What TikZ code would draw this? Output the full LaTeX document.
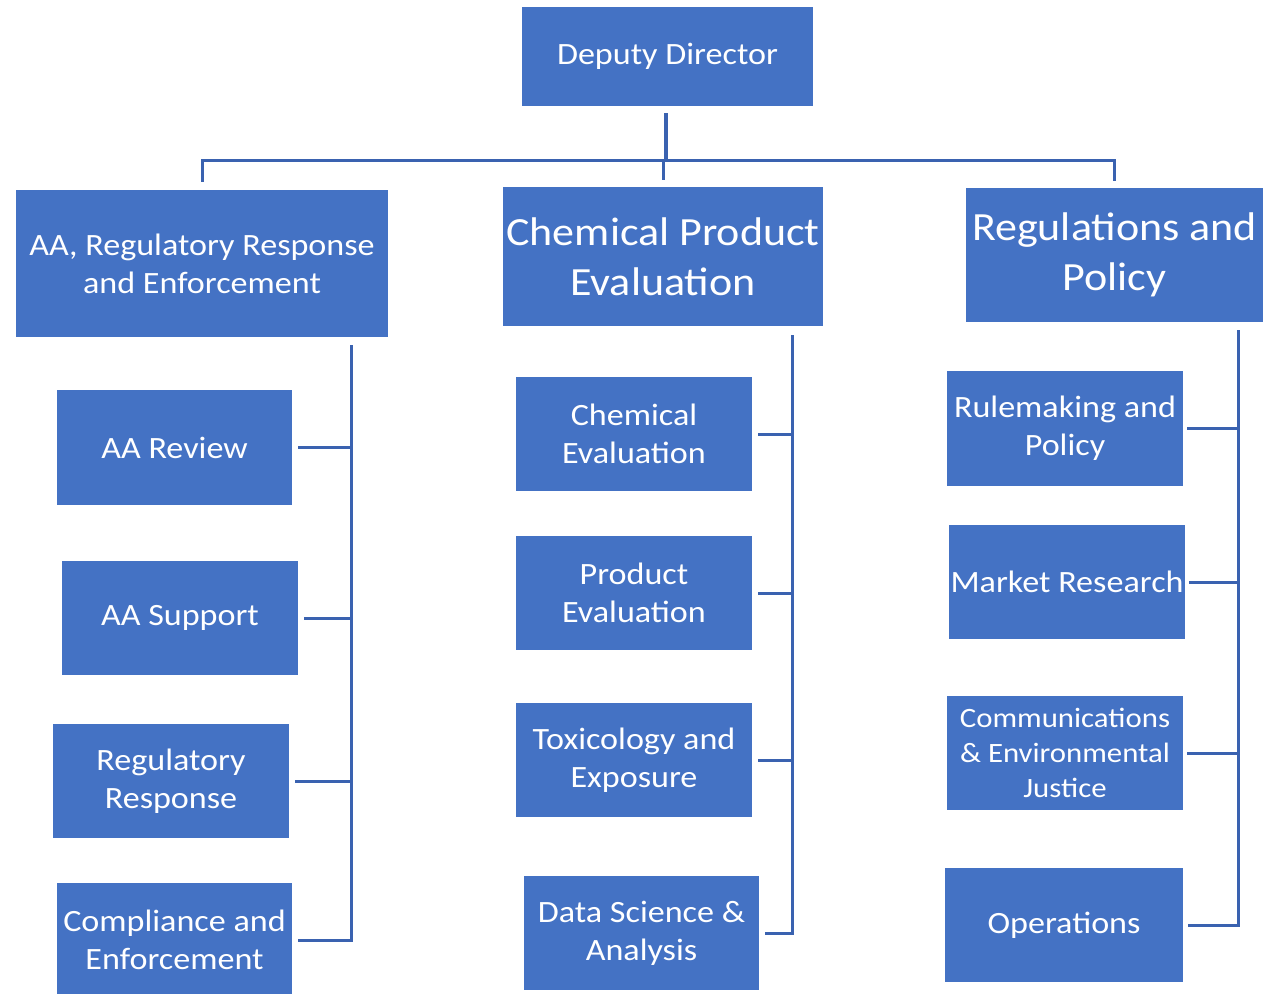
\documentclass[tikz,border=0pt]{standalone}
\usepackage{fontspec}
\setmainfont{Carlito}[FakeStretch=1.1]
\usetikzlibrary{calc}
\definecolor{boxblue}{HTML}{4472C4}
\definecolor{lineblue}{HTML}{3A62B0}
\tikzset{
  unit/.style={rectangle, fill=boxblue, text=white, align=center, inner sep=0pt,
    font=\fontsize{31}{38}\selectfont},
  head/.style={unit, font=\fontsize{40}{50}\selectfont},
  link/.style={draw=lineblue, line width=3pt}
}
\begin{document}
\begin{tikzpicture}[x=1pt, y=-1pt]
  \useasboundingbox (0,0) rectangle (1263,993);

  \node [unit, minimum width=291, minimum height=99] (dd) at (667.5,56.5) {Deputy Director};

  \node [unit, minimum width=372, minimum height=147] (are) at (202,263.5) {AA, Regulatory Response\\and Enforcement};
  \node [head, minimum width=320, minimum height=139] (cpe) at (663,256.5) {Chemical Product\\Evaluation};
  \node [head, minimum width=297, minimum height=134] (rap) at (1114.5,255) {Regulations and\\Policy};

  % left column
  \node [unit, minimum width=235, minimum height=115] (rev) at (174.5,447.5) {AA Review};
  \node [unit, minimum width=236, minimum height=114] (sup) at (180,618) {AA Support};
  \node [unit, minimum width=236, minimum height=114] (rr) at (171,781) {Regulatory\\Response};
  \node [unit, minimum width=235, minimum height=114] (ce) at (174.5,940) {Compliance and\\Enforcement};

  % middle column
  \node [unit, minimum width=236, minimum height=114] (ceval) at (634,434) {Chemical\\Evaluation};
  \node [unit, minimum width=236, minimum height=114] (peval) at (634,593) {Product\\Evaluation};
  \node [unit, minimum width=236, minimum height=114] (tox) at (634,760) {Toxicology and\\Exposure};
  \node [unit, minimum width=235, minimum height=114] (dsa) at (641.5,933) {Data Science \&\\Analysis};

  % right column
  \node [unit, minimum width=236, minimum height=115] (rmp) at (1065,428.5) {Rulemaking and\\Policy};
  \node [unit, minimum width=236, minimum height=114] (mr) at (1067,582) {Market Research};
  \node [unit, minimum width=236, minimum height=114, font=\fontsize{28}{35}\selectfont] (cej) at (1065,753) {Communications\\\& Environmental\\Justice};
  \node [unit, minimum width=238, minimum height=114] (ops) at (1064,925) {Operations};

  \coordinate (top) at (666,160);
  \draw [link, line width=4pt] ([yshift=-7]dd.south -| top) -- (top);
  \draw [link] ([yshift=8]are.north) |- (top) -| ([yshift=7]rap.north);
  \draw [link] (top -| cpe.north) -- ([yshift=7]cpe.north);

  \coordinate (lbus) at (351,345);
  \coordinate (mbus) at (792,335);
  \coordinate (rbus) at (1238,330);

  \draw [link] (lbus) |- ([xshift=6]ce.east);
  \foreach \n in {rev,sup,rr}
    \draw [link] ([xshift=6]\n.east) -- (\n.east -| lbus);

  \draw [link] (mbus) |- ([xshift=6]dsa.east);
  \foreach \n in {ceval,peval,tox}
    \draw [link] ([xshift=6]\n.east) -- (\n.east -| mbus);

  \draw [link] (rbus) |- ([xshift=5]ops.east);
  \foreach \n in {rmp,mr,cej}
    \draw [link] ([xshift=4]\n.east) -- (\n.east -| rbus);
\end{tikzpicture}
\end{document}
